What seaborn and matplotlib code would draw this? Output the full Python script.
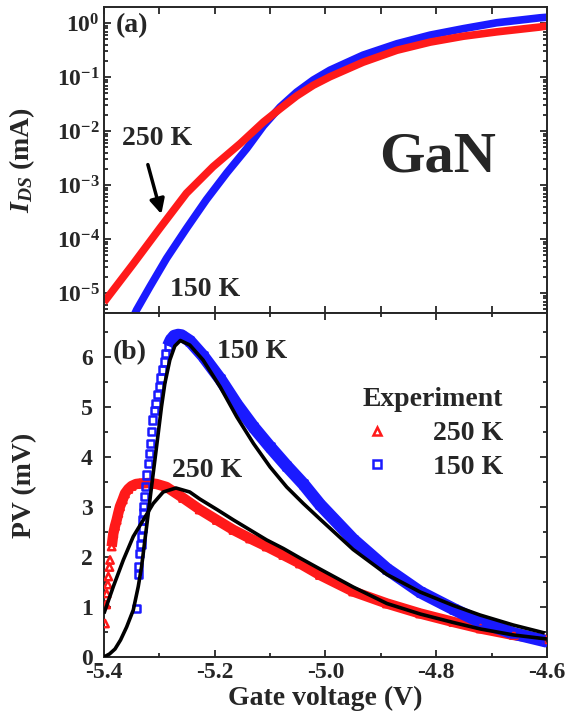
import numpy as np
import pandas as pd
import seaborn as sns
import matplotlib
matplotlib.use("Agg")
import matplotlib.pyplot as plt
from matplotlib.lines import Line2D
from matplotlib.ticker import MultipleLocator, LogLocator, NullFormatter

# ---- (a) drain current vs gate voltage (mA) ----
ids_250_v = [-5.400, -5.347, -5.299, -5.251, -5.203, -5.154, -5.112, -5.082, -5.052,
             -5.022, -4.992, -4.932, -4.871, -4.811, -4.751, -4.691, -4.613, -4.600]
ids_250 = [6.8e-6, 3.5e-5, 1.6e-4, 7.1e-4, 2.2e-3, 5.9e-3, 1.48e-2, 2.6e-2, 4.5e-2,
           7.1e-2, 0.102, 0.19, 0.316, 0.447, 0.575, 0.692, 0.851, 0.89]

ids_150_v = [-5.347, -5.341, -5.317, -5.287, -5.251, -5.215, -5.178, -5.142, -5.112,
             -5.082, -5.052, -5.022, -4.992, -4.932, -4.871, -4.811, -4.751, -4.691,
             -4.613, -4.600]
ids_150 = [3.6e-6, 4.9e-6, 1.32e-5, 4.4e-5, 1.58e-4, 5.4e-4, 1.7e-3, 4.8e-3, 1.26e-2,
           2.8e-2, 5.3e-2, 8.9e-2, 0.135, 0.257, 0.417, 0.603, 0.794, 1.02, 1.26, 1.29]

# ---- (b) photovoltage, experiment (mV) ----
pv_250_v = [-5.398, -5.396, -5.395, -5.393, -5.392, -5.390, -5.389, -5.386, -5.383,
            -5.380, -5.377, -5.374, -5.371, -5.366, -5.362, -5.356, -5.350, -5.342,
            -5.335, -5.320, -5.305, -5.287, -5.257, -5.227, -5.196, -5.166, -5.136,
            -5.106, -5.076, -5.046, -5.010, -4.950, -4.889, -4.829, -4.769, -4.720,
            -4.660, -4.600]
pv_250 = [0.67, 1.05, 1.27, 1.45, 1.61, 1.80, 1.94, 2.21, 2.47,
          2.62, 2.74, 2.88, 3.01, 3.15, 3.27, 3.36, 3.42, 3.46,
          3.47, 3.48, 3.46, 3.40, 3.18, 2.95, 2.74, 2.54, 2.37,
          2.21, 2.04, 1.87, 1.64, 1.31, 1.07, 0.87, 0.70, 0.57,
          0.44, 0.34]

pv_150_v = [-5.341, -5.338, -5.337, -5.335, -5.333, -5.332, -5.331, -5.330, -5.329,
            -5.328, -5.326, -5.325, -5.323, -5.320, -5.318, -5.316, -5.314, -5.312,
            -5.309, -5.306, -5.303, -5.300, -5.297, -5.294, -5.291, -5.288, -5.284,
            -5.279, -5.273, -5.266, -5.260, -5.245, -5.221, -5.190, -5.160, -5.130,
            -5.100, -5.070, -5.040, -5.010, -4.950, -4.889, -4.829, -4.769, -4.720,
            -4.660, -4.600]
pv_150 = [0.97, 1.65, 1.81, 2.07, 2.25, 2.41, 2.58, 2.74, 2.88,
          3.01, 3.21, 3.41, 3.64, 3.87, 4.07, 4.27, 4.51, 4.74,
          4.93, 5.07, 5.25, 5.41, 5.58, 5.74, 5.90, 6.07, 6.22,
          6.34, 6.42, 6.44, 6.43, 6.32, 6.02, 5.56, 5.05, 4.60,
          4.20, 3.82, 3.46, 3.05, 2.35, 1.76, 1.30, 0.96, 0.70,
          0.47, 0.31]

# ---- (b) calculated curves ----
fit_250_v = [-5.400, -5.383, -5.365, -5.347, -5.329, -5.311, -5.293, -5.270, -5.245,
             -5.227, -5.196, -5.166, -5.136, -5.106, -5.076, -5.046, -5.010, -4.950,
             -4.889, -4.829, -4.769, -4.720, -4.660, -4.600]
fit_250 = [0.87, 1.41, 1.94, 2.41, 2.74, 3.07, 3.30, 3.38, 3.30,
           3.16, 2.95, 2.74, 2.54, 2.34, 2.17, 1.98, 1.76, 1.40,
           1.07, 0.86, 0.69, 0.56, 0.44, 0.36]

fit_150_v = [-5.400, -5.390, -5.380, -5.370, -5.359, -5.347, -5.338, -5.332, -5.326,
             -5.320, -5.314, -5.308, -5.302, -5.296, -5.290, -5.281, -5.272, -5.262,
             -5.245, -5.221, -5.190, -5.160, -5.130, -5.100, -5.070, -5.040, -5.010,
             -4.950, -4.889, -4.829, -4.769, -4.721, -4.661, -4.604]
fit_150 = [0.00, 0.06, 0.16, 0.34, 0.60, 0.94, 1.41, 1.81, 2.34,
           2.87, 3.41, 3.94, 4.47, 5.01, 5.47, 5.94, 6.22, 6.33,
           6.24, 5.94, 5.40, 4.80, 4.27, 3.80, 3.40, 3.07, 2.76,
           2.15, 1.65, 1.30, 1.03, 0.84, 0.64, 0.48]

x_ticks = [-5.4, -5.2, -5.0, -4.8, -4.6]
x_ticklabels = ["-5.4", "-5.2", "-5.0", "-4.8", "-4.6"]

RED = "#ff1a1a"
BLUE = "#1a1aff"

sns.set_style("ticks")
plt.rcParams["font.family"] = ["Liberation Serif", "DejaVu Serif"]
plt.rcParams["font.weight"] = "bold"
plt.rcParams["axes.labelweight"] = "bold"
plt.rcParams["mathtext.fontset"] = "custom"
plt.rcParams["mathtext.rm"] = "Liberation Serif:bold"
plt.rcParams["mathtext.bf"] = "Liberation Serif:bold"
plt.rcParams["mathtext.it"] = "Liberation Serif:italic:bold"
plt.rcParams["axes.unicode_minus"] = False
plt.rcParams["ytick.major.pad"] = 8

fig = plt.figure(figsize=(5.71, 7.22), dpi=100)
ax1 = fig.add_axes([0.182, 0.5665, 0.776, 0.4235])
ax2 = fig.add_axes([0.182, 0.090, 0.776, 0.4765])

line_kw = dict(sort=False, estimator=None, solid_joinstyle="round", solid_capstyle="butt")

df_a250 = pd.DataFrame({"v": ids_250_v, "i": ids_250})
df_a150 = pd.DataFrame({"v": ids_150_v, "i": ids_150})
sns.lineplot(data=df_a150, x="v", y="i", ax=ax1, color=BLUE, lw=5.5, **line_kw)
sns.lineplot(data=df_a250, x="v", y="i", ax=ax1, color=RED, lw=5.5, **line_kw)
ax1.set_yscale("log")
ax1.set_xlim(-5.4, -4.6)
ax1.set_ylim(4.3e-6, 1.98)
ax1.xaxis.set_major_locator(MultipleLocator(0.1))
ax1.yaxis.set_major_locator(LogLocator(base=10, numticks=10))
ax1.yaxis.set_minor_locator(LogLocator(base=10, subs=np.arange(2, 10), numticks=20))
ax1.yaxis.set_minor_formatter(NullFormatter())
ax1.set_xlabel("")
ax1.set_ylabel("$I_{DS}$ (mA)", fontsize=20)
ax1.yaxis.set_label_coords(-0.15, 0.5)
ax1.tick_params(labelbottom=False)

ax1.text(-5.378, 0.91, "(a)", fontsize=20, ha="left", va="center")
ax1.text(-5.367, 7.4e-3, "250 K", fontsize=20, ha="left", va="center")
ax1.text(-5.281, 1.15e-5, "150 K", fontsize=20, ha="left", va="center")
ax1.text(-4.797, 3.3e-3, "GaN", fontsize=42, ha="center", va="center")
ax1.annotate("", xy=(-5.295, 2.6e-4), xytext=(-5.322, 2.7e-3),
             arrowprops=dict(arrowstyle="-|>", color="black", lw=2.5, mutation_scale=22))

# ---- panel b ----
df_b250 = pd.DataFrame({"v": pv_250_v, "pv": pv_250})
df_b150 = pd.DataFrame({"v": pv_150_v, "pv": pv_150})
df_f250 = pd.DataFrame({"v": fit_250_v, "pv": fit_250})
df_f150 = pd.DataFrame({"v": fit_150_v, "pv": fit_150})

sns.lineplot(data=df_b250[df_b250.v >= -5.386], x="v", y="pv", ax=ax2, color=RED, lw=7.5,
             **line_kw)
sns.scatterplot(data=df_b250, x="v", y="pv", ax=ax2, marker="^", s=28, facecolor="none",
                edgecolor=RED, linewidth=1.8, zorder=3)
sns.lineplot(data=df_b150[df_b150.v >= -5.284], x="v", y="pv", ax=ax2, color=BLUE, lw=9,
             **line_kw)
sns.scatterplot(data=df_b150, x="v", y="pv", ax=ax2, marker="s", s=26, facecolor="none",
                edgecolor=BLUE, linewidth=1.8, zorder=3)
sns.lineplot(data=df_f250, x="v", y="pv", ax=ax2, color="black", lw=2.6, zorder=4, **line_kw)
sns.lineplot(data=df_f150, x="v", y="pv", ax=ax2, color="black", lw=2.6, zorder=4, **line_kw)

ax2.set_xlim(-5.4, -4.6)
ax2.set_ylim(0, 6.88)
ax2.xaxis.set_major_locator(MultipleLocator(0.2))
ax2.xaxis.set_minor_locator(MultipleLocator(0.1))
ax2.set_xticks(x_ticks)
ax2.set_xticklabels(x_ticklabels)
ax2.yaxis.set_major_locator(MultipleLocator(1))
ax2.yaxis.set_minor_locator(MultipleLocator(0.5))
ax2.set_xlabel("Gate voltage (V)", fontsize=20, labelpad=2)
ax2.set_ylabel("PV (mV)", fontsize=20)
ax2.yaxis.set_label_coords(-0.15, 0.5)

ax2.text(-5.384, 6.08, "(b)", fontsize=20, ha="left", va="center")
ax2.text(-5.196, 6.10, "150 K", fontsize=20, ha="left", va="center")
ax2.text(-5.277, 3.74, "250 K", fontsize=20, ha="left", va="center")

handles = [Line2D([], [], ls="none", marker="^", ms=6, mfc="none", mec=RED, mew=1.8),
           Line2D([], [], ls="none", marker="s", ms=5.5, mfc="none", mec=BLUE, mew=1.8)]
leg = ax2.legend(handles, ["250 K", "150 K"], title="Experiment", frameon=False,
                 loc="upper right", bbox_to_anchor=(0.945, 0.84), fontsize=20,
                 title_fontproperties={"size": 20, "weight": "bold"},
                 handlelength=1.0, handletextpad=1.5, labelspacing=0.3, borderpad=0.2)

for ax in (ax1, ax2):
    for sp in ax.spines.values():
        sp.set_linewidth(1.4)
        sp.set_visible(True)
    ax.tick_params(which="both", direction="in", top=True, right=True, width=1.3,
                   labelsize=17)
    ax.tick_params(which="major", length=5)
    ax.tick_params(which="minor", length=3)
ax1.tick_params(axis="y", pad=3)

fig.savefig("out.png", dpi=100)
